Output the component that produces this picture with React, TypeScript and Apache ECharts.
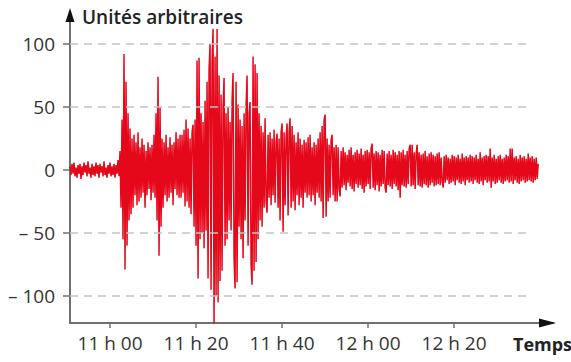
import { useEffect, useRef } from "react";
import * as echarts from "echarts";

// time in minutes after 10 h 00 ; one sample every DT minutes
const T0 = 50.7;
const DT = 0.2326;

const quiet = [3,-4,5,-3,6,-5,2,-6,4,-3,5,-7,3,-4,6,-2,4,-5,7,-3,2,-6,5,-4,3,-5,6,-3,4,-6,5,-2,3,-5,7,-4,2,-6,4,-3,6,-5,3,-4,5,-6,4,-3,8,-5];
const onset = [15,-30,40,-55,92,-79,70,-60,45,-40,33,-35,25,-30,28,-20,22,-28,30,-25,18,-22,25,-18,20,-30,15,-20,22,-15,18,-24,20,-18,28,-22,45,-40,74,-68,50,-45,25,-30,22,-20,28,-25,18,-22,26,-18,20,-28,22,-15,30,-20,25,-22,28];
const main = [-22,28,-18,32,-29,40,-25,33,-30,25,-35,30,36,-45,40,-60,87,-86,89,-55,45,-50,38,-62,55,-48,70,-86,80,100,-95,85,112,-125,90,-100,112,-105,75,-88,60,-80,49,73,-60,45,-55,50,-40,38,-48,55,77,-70,-94,70,-89,52,-45,40,-55,35,-70,45,-40,50,75,-60,45,54,-75,-91,90,-80,84,-73,77,-55,45,-40,35,-45,30,-30,41,-25,-34,28,-22,30,-28,25,-20,32,-26,22,29,-30,25,-40,30,37,-49,30,-28,25,37,-36,30,41];
const coda1 = [-30,35,-25,28,-32,22,-20,30,-28,25,-22,20,-30,24,-18,22,-22,26,-20,28,-25,18,-20,22,-28,20,-18,25,-22,30,-25,35,-38,40,44,-37,25,-25,20,-22,24,28,-20,18,-25,20,-25,18,-15,-21];
const coda2 = [15,-14,18,-12,14,-16,12,-10,16,-13,18,-15,12,-17,14,-11,16,-14,13,-12,17,-15,12,-18,15,-13,16,-11,14,-15,17,21,-14,13,-16,15,-12,14,-17,12,-13,16,-11,15,-14,-18,13,-12,15,-13,12,-15,16,-11,14,-13,12,-16,15,-22,14,-12,16,-13,12,-14,15,-11,17,20,-13,20,-12,14,-15,13,20,-12,14,-13,12,-14,13,-11,15,-12,11,-14,13,-12,14,-10,12,-13,11,-12,13,-11,14,-12];
const coda3 = [10,-9,-14,11,-10,12,-8,10,-11,9,-10,12,-9,11,-12,10,-8,12,-10,9,-11,13,-9,10,-12,11,-8,10,-10,12,-9,11,-11,10,-8,12,-10,9,-11,14,-9,10,-12,11,-8,12,-10,11,-9,17,-14,10,-9,12,-11,9,-10,11,-8,12,-10,9,-11,10,-9,12,-8,11,-10,17,-9,17,-11,10,-8,11,-10,9,-11,12,-9,10,-8,11,-10,9,-9,13,-8,10,-9,11,-10,9,-8,10,-7,5];

const segments = [
  { start: 0, values: quiet },
  { start: 50, values: onset },
  { start: 111, values: main },
  { start: 221, values: coda1 },
  { start: 271, values: coda2 },
  { start: 371, values: coda3 },
];

const timeTicks = [60, 80, 100, 120, 140];
const timeLabels = ["11 h 00", "11 h 20", "11 h 40", "12 h 00", "12 h 20"];
const ampTicks = [-100, -50, 0, 50, 100];
const ampLabels = ["– 100", "– 50", "0", "50", "100"];
const gridValues = [-100, -50, 50, 100];

export default function App() {
  const ref = useRef<HTMLDivElement>(null);
  useEffect(() => {
    if (!ref.current) return;
    const chart = echarts.init(ref.current, undefined, { renderer: "svg" });
    const data: number[][] = [];
    segments.forEach((s) => {
      s.values.forEach((v, i) => data.push([T0 + (s.start + i) * DT, v]));
    });
    const font = "'Open Sans', 'Noto Sans', sans-serif";
    const axisColor = "#707070";
    chart.setOption({
      animation: false,
      backgroundColor: "#ffffff",
      grid: { left: 70, right: 18, top: 13, bottom: 39, outerBoundsMode: "none" },
      graphic: [
        {
          type: "polygon",
          silent: true,
          z: 10,
          shape: { points: [[70, 8], [65.5, 22], [74.5, 22]] },
          style: { fill: "#111" },
        },
        {
          type: "polygon",
          silent: true,
          z: 10,
          shape: { points: [[556, 323], [539, 318.5], [539, 327.5]] },
          style: { fill: "#111" },
        },
      ],
      xAxis: {
        type: "value",
        min: 50.7,
        max: 163.0,
        name: "Temps",
        nameLocation: "end",
        nameGap: -40,
        nameTextStyle: {
          fontFamily: font,
          fontSize: 18,
          fontWeight: "bold",
          color: "#222",
          align: "left",
          verticalAlign: "top",
          padding: [12, 0, 0, 0],
        },
        axisLine: {
          show: true,
          onZero: false,
          lineStyle: { color: axisColor, width: 2 },
        },
        axisTick: {
          show: true,
          customValues: timeTicks,
          length: 5,
          lineStyle: { color: axisColor, width: 1.5 },
        },
        axisLabel: {
          customValues: timeTicks,
          formatter: (v: number) => timeLabels[timeTicks.indexOf(v)] ?? "",
          fontFamily: font,
          fontSize: 19,
          color: "#333",
          margin: 10,
        },
        splitLine: { show: false },
      },
      yAxis: {
        type: "value",
        min: -121.4,
        max: 124.6,
        name: "Unités arbitraires",
        nameLocation: "end",
        nameGap: -4,
        nameTextStyle: {
          fontFamily: font,
          fontSize: 19,
          fontWeight: 600,
          color: "#222",
          align: "left",
          verticalAlign: "middle",
          padding: [0, 0, 0, 12],
        },
        axisLine: {
          show: true,
          onZero: false,
          lineStyle: { color: axisColor, width: 2 },
        },
        axisTick: {
          show: true,
          customValues: ampTicks,
          length: 7,
          lineStyle: { color: axisColor, width: 1.5 },
        },
        axisLabel: {
          customValues: ampTicks,
          formatter: (v: number) => ampLabels[ampTicks.indexOf(v)] ?? "",
          fontFamily: font,
          fontSize: 19,
          color: "#333",
          margin: 15,
        },
        splitLine: { show: false },
      },
      series: [
        {
          type: "line",
          data: [],
          z: 1,
          silent: true,
          markLine: {
            silent: true,
            symbol: ["none", "none"],
            label: { show: false },
            lineStyle: { color: "#c4c4c4", width: 1.5, type: [8, 6] },
            data: gridValues.map((g) => [{ coord: [50.7, g] }, { coord: [157.7, g] }]),
          },
        },
        {
          type: "line",
          data,
          z: 3,
          showSymbol: false,
          clip: true,
          lineStyle: { color: "#e5071a", width: 1.5 },
        },
      ],
    });
    return () => chart.dispose();
  }, []);
  return (
    <div
      ref={ref}
      style={{ position: "fixed", left: 0, top: 0, width: 571, height: 362 }}
    />
  );
}
